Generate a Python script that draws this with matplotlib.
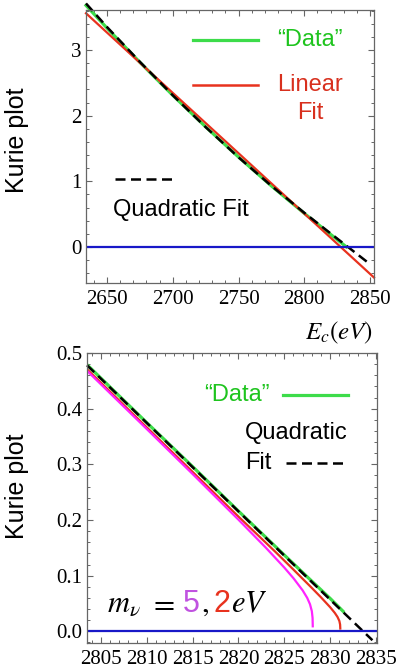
import matplotlib
matplotlib.use('Agg')
import matplotlib.pyplot as plt
from matplotlib.lines import Line2D
from matplotlib.ticker import MultipleLocator, FormatStrFormatter

plt.rcParams['font.family'] = 'Liberation Serif'
plt.rcParams['mathtext.fontset'] = 'stix'
plt.rcParams['xtick.labelsize'] = 15
plt.rcParams['ytick.labelsize'] = 15

# --- top panel: Kurie plot over the full range ---
top_data_x = [2634, 2650, 2675, 2700, 2725, 2750, 2775, 2800, 2820, 2832]
top_data_y = [3.68, 3.334, 2.812, 2.31, 1.829, 1.369, 0.929, 0.511, 0.191, 0.0]
top_lin_x = [2634, 2853]
top_lin_y = [3.56, -0.467]
top_quad_x = [2634, 2650, 2675, 2700, 2725, 2750, 2775, 2800, 2820, 2835, 2848.5]
top_quad_y = [3.71, 3.35, 2.82, 2.31, 1.825, 1.365, 0.93, 0.52, 0.205, -0.029, -0.24]

# --- bottom panel: zoom on the endpoint ---
bot_data_x = [2803.5, 2810, 2815, 2820, 2825, 2828, 2830, 2831.4]
bot_data_y = [0.479, 0.375, 0.296, 0.216, 0.137, 0.090, 0.059, 0.036]
bot_m2_x = [2803.5, 2810, 2815, 2820, 2824, 2826, 2828, 2829, 2830, 2830.5, 2830.8, 2831.0, 2831.08, 2831.1]
bot_m2_y = [0.4710, 0.3666, 0.2866, 0.2062, 0.1432, 0.1108, 0.0779, 0.0610, 0.0432, 0.0331, 0.0257, 0.0185, 0.0121, 0.005]
bot_m5_x = [2803.5, 2810, 2815, 2820, 2823, 2825, 2826, 2827, 2827.5, 2827.8, 2828.0, 2828.08, 2828.1]
bot_m5_y = [0.4681, 0.3636, 0.2827, 0.2006, 0.1500, 0.1145, 0.0953, 0.0735, 0.0599, 0.0486, 0.0361, 0.0239, 0.009]
bot_quad_x = [2803.5, 2815, 2825, 2834.6]
bot_quad_y = [0.478, 0.295, 0.136, -0.016]

green = '#3ddc4a'
green_txt = '#1ec41e'
red = '#e8321e'
red_txt = '#d8301e'
blue = '#1818c8'
magenta = '#ff22ff'
purple = '#c052e0'
frame = '#666666'

W, H = 399, 670
fig = plt.figure(figsize=(W / 100, H / 100), dpi=100)


def px(x, y):
    return x / W, 1 - y / H


def style_axes(ax):
    for s in ax.spines.values():
        s.set_color(frame)
        s.set_linewidth(0.9)
    ax.tick_params(which='both', direction='in', top=True, right=True, color=frame)
    ax.tick_params(which='major', length=4.5, width=0.8)
    ax.tick_params(which='minor', length=2.5, width=0.7)
    ax.tick_params(axis='x', which='major', pad=5)


ax1 = fig.add_axes([86 / W, 1 - 283 / H, (374 - 86) / W, (283 - 10) / H])
ax1.plot(top_data_x, top_data_y, color=green, lw=2.3, clip_on=False)
ax1.plot(top_lin_x, top_lin_y, color=red, lw=1.6, clip_on=False)
ax1.plot(top_quad_x, top_quad_y, color='black', lw=1.8, dashes=(4, 2.2), clip_on=False)
ax1.axhline(0, color=blue, lw=1.6)
ax1.set_xlim(2634, 2853)
ax1.set_ylim(-0.55, 3.61)
ax1.xaxis.set_major_locator(MultipleLocator(50))
ax1.xaxis.set_minor_locator(MultipleLocator(10))
ax1.yaxis.set_major_locator(MultipleLocator(1))
ax1.yaxis.set_minor_locator(MultipleLocator(0.2))
style_axes(ax1)

ax2 = fig.add_axes([87 / W, 1 - 643 / H, (377 - 87) / W, (643 - 353) / H])
ax2.plot(bot_data_x, bot_data_y, color=green, lw=2.3)
ax2.plot(bot_m2_x, bot_m2_y, color=red, lw=1.6)
ax2.plot(bot_m5_x, bot_m5_y, color=magenta, lw=1.6)
ax2.plot(bot_quad_x, bot_quad_y, color='black', lw=1.8, dashes=(4, 2.2), clip_on=False)
ax2.axhline(0, color=blue, lw=1.6)
ax2.set_xlim(2803.5, 2835.1)
ax2.set_ylim(-0.021, 0.5)
ax2.xaxis.set_major_locator(MultipleLocator(5))
ax2.xaxis.set_minor_locator(MultipleLocator(1))
ax2.yaxis.set_major_locator(MultipleLocator(0.1))
ax2.yaxis.set_minor_locator(MultipleLocator(0.02))
ax2.yaxis.set_major_formatter(FormatStrFormatter('%.1f'))
style_axes(ax2)

# axis labels
sans = 'Liberation Sans'
fig.text(*px(17, 140), 'Kurie plot', rotation=90, ha='center', va='center', fontsize=18, family=sans)
fig.text(*px(17, 486), 'Kurie plot', rotation=90, ha='center', va='center', fontsize=18, family=sans)
fig.text(*px(373, 333), r'$E_c(eV)$', ha='right', va='center', fontsize=18)

# hand-placed legend, top panel
fig.add_artist(Line2D([193 / W, 258 / W], [1 - 40 / H] * 2, color=green, lw=2.3))
fig.text(*px(310, 40), '\u201cData\u201d', ha='center', va='center', fontsize=17, family=sans, color=green_txt)
fig.add_artist(Line2D([193 / W, 258 / W], [1 - 85 / H] * 2, color=red, lw=1.8))
fig.text(*px(310, 99), 'Linear\nFit', ha='center', va='center', fontsize=17, family=sans,
         color=red_txt, linespacing=1.3)
fig.add_artist(Line2D([115 / W, 175 / W], [1 - 179 / H] * 2, color='black', lw=1.8, dashes=(4, 2.2)))
fig.text(*px(113, 210), 'Quadratic Fit', ha='left', va='center', fontsize=17, family=sans)

# hand-placed legend, bottom panel
fig.text(*px(270, 395), '\u201cData\u201d', ha='right', va='center', fontsize=17, family=sans, color=green_txt)
fig.add_artist(Line2D([283 / W, 348 / W], [1 - 395 / H] * 2, color=green, lw=2.3))
fig.text(*px(245, 433), 'Quadratic', ha='left', va='center', fontsize=17, family=sans)
fig.text(*px(245, 463), 'Fit', ha='left', va='center', fontsize=17, family=sans)
fig.add_artist(Line2D([286 / W, 347 / W], [1 - 463 / H] * 2, color='black', lw=1.8, dashes=(4, 2.2)))

# m_nu annotation built from coloured pieces
fig.canvas.draw()
renderer = fig.canvas.get_renderer()
pieces = [(r'$m_\nu$', 'black', None, 8), (r'$=$', 'black', None, 8), ('5', purple, sans, 1),
          (r'$,$', 'black', None, 5), ('2', red, sans, 1), (r'$eV$', 'black', None, 0)]
xcur = 107
for s, c, fam, gap in pieces:
    kw = dict(ha='left', va='baseline', fontsize=22, color=c)
    if fam:
        kw['family'] = fam
    t = fig.text(xcur / W, 1 - 612 / H, s, **kw)
    bb = t.get_window_extent(renderer)
    xcur += bb.width + gap

fig.savefig('out.png', dpi=100)
